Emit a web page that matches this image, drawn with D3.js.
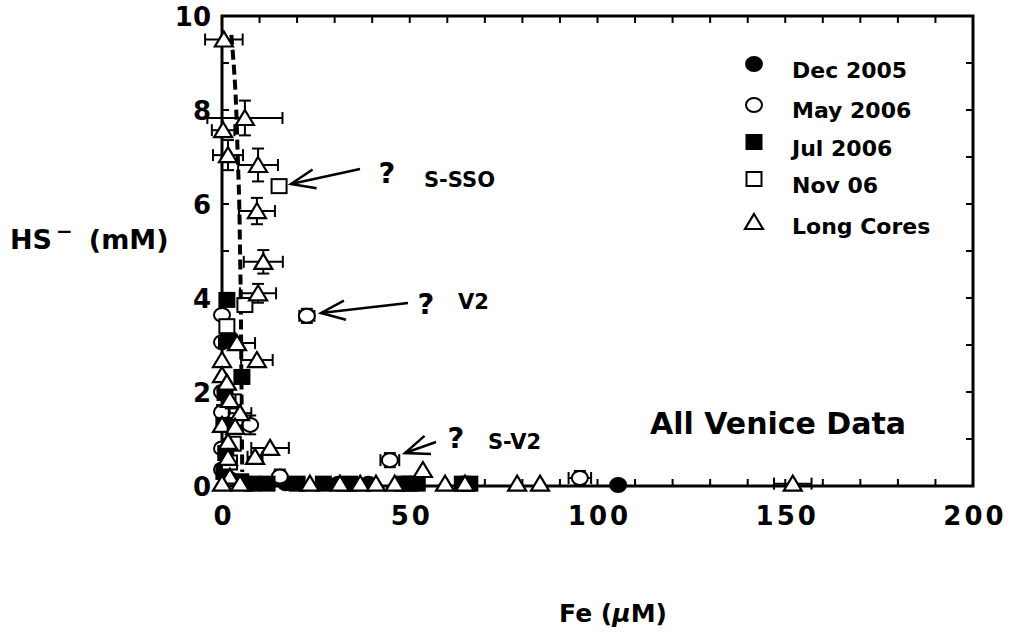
<!DOCTYPE html>
<html><head><meta charset="utf-8">
<script src="https://cdn.jsdelivr.net/npm/d3@7"></script>
<style>
html,body{margin:0;padding:0;background:#fff;}
text{font-family:"DejaVu Sans",sans-serif;font-weight:bold;fill:#000;}
</style></head>
<body><svg id="c" width="1016" height="632"></svg>
<script>
// ---- data: [Fe (uM), HS- (mM), Fe error, HS error] ----
const dec2005 = [[105.5,0.02,0,0],[39,0.05,0,0],[31,0.05,0,0],[17,0.06,0,0],[8,0.05,0,0]];
const may2006 = [[0,3.64,0,0.1],[22.6,3.62,2,0.15],[0,3.06,0,0],[0,2.0,0,0],[0,1.57,0,0.15],[7.5,1.3,1,0.2],[0,0.8,0,0],[0,0.35,0,0],[44.7,0.55,2.5,0.15],[15.4,0.2,1.5,0.15],[95.3,0.17,3,0.15],[2,0.15,0,0]];
const jul2006 = [[1.3,3.96,0,0],[1.6,3.1,0,0],[5.3,2.32,0,0],[0.8,1.98,0,0],[0.5,1.3,0,0],[1,0.7,0,0],[0.5,0.3,0,0],[5,0.1,0,0],[8,0.05,0,0],[12,0.05,0,0],[20,0.05,0,0],[27,0.05,0,0],[34,0.05,0,0],[48,0.05,0,0],[50,0.05,0,0],[52,0.05,0,0],[64,0.05,0,0],[66,0.05,0,0]];
const nov06 = [[15.2,6.38,0,0],[6.1,3.85,1.5,0],[1.3,3.4,0,0],[3,1.8,0,0],[3,0.9,0,0],[2,0.5,0,0]];
const longCores = [[0.5,9.5,5,0],[6.1,7.83,10,0.37],[0.3,7.57,3,0],[1.6,7.04,4,0.32],[9.6,6.83,5.3,0.35],[9.3,5.85,4.8,0.28],[11,4.77,5.2,0.25],[9.6,4.1,4.8,0.2],[4,3.04,4.8,0],[0,2.68,0,0],[9.3,2.68,4.2,0],[0,2.36,0,0],[1.3,2.2,0,0],[2.1,1.83,1.5,0],[4.8,1.55,3,0],[0,1.3,0,0],[3.5,1.26,2,0],[1.6,0.94,0,0],[12.8,0.81,5,0],[8.8,0.62,2,0],[1.6,0.6,0,0],[2.1,0.2,0,0],[0,0.05,0,0],[4.8,0.05,0,0],[23.4,0.05,0,0],[31.4,0.05,0,0],[36.8,0.05,0,0],[41,0.05,0,0],[46,0.05,0,0],[53.5,0.34,0,0],[59.4,0.05,0,0],[64.7,0.05,0,0],[78.6,0.05,0,0],[84.7,0.05,0,0],[152,0.05,5,0]];
const trendFe = [2.5,3.5,4.2,4.6,4.8,5.0,5.1,5.2,5.3,5.4];
const trendHS = [9.6,8.5,7.0,6.0,5.0,4.0,3.0,2.0,1.0,0.3];
const xTicks = [0,50,100,150,200];
const yTicks = [0,2,4,6,8,10];
const legendLabels = ["Dec 2005","May 2006","Jul 2006","Nov 06","Long Cores"];
const notes = [{q:"?",label:"S-SSO",fe:15.2,hs:6.38},{q:"?",label:"V2",fe:22.6,hs:3.62},{q:"?",label:"S-V2",fe:44.7,hs:0.55}];

const svg = d3.select("#c");
const L=222,R=973,T=16,B=486;
const x = d3.scaleLinear().domain([0,200]).range([L,R]);
const y = d3.scaleLinear().domain([0,10]).range([B,T]);

// frame
svg.append("rect").attr("x",L).attr("y",T).attr("width",R-L).attr("height",B-T)
  .attr("fill","none").attr("stroke","#000").attr("stroke-width",3);

// ticks (inside) on all sides
const tk = 7;
const xt = d3.range(0,201,10), yt = d3.range(0,10.01,1);
const tg = svg.append("g").attr("stroke","#000").attr("stroke-width",2);
xt.forEach(v=>{ tg.append("line").attr("x1",x(v)).attr("x2",x(v)).attr("y1",B).attr("y2",B-tk);
                tg.append("line").attr("x1",x(v)).attr("x2",x(v)).attr("y1",T).attr("y2",T+tk);});
yt.forEach(v=>{ tg.append("line").attr("y1",y(v)).attr("y2",y(v)).attr("x1",L).attr("x2",L+tk);
                tg.append("line").attr("y1",y(v)).attr("y2",y(v)).attr("x1",R).attr("x2",R-tk);});

// tick labels
svg.append("g").selectAll("text").data(xTicks).join("text")
  .attr("x",d=>x(d)+2).attr("y",525).attr("text-anchor","middle")
  .attr("font-size",26).attr("letter-spacing",3).text(d=>d);
svg.append("g").selectAll("text").data(yTicks).join("text")
  .attr("x",211).attr("y",d=>y(d)+10).attr("text-anchor","end")
  .attr("font-size",26).text(d=>d);

// axis titles
const yl = svg.append("text").attr("x",10).attr("y",249).attr("font-size",27);
yl.append("tspan").text("HS");
yl.append("tspan").attr("dy",-11).attr("dx",4).attr("font-size",20).text("−");
yl.append("tspan").attr("dy",11).attr("dx",16).text("(mM)");
const xl = svg.append("text").attr("x",613).attr("y",622).attr("text-anchor","middle").attr("font-size",25);
xl.append("tspan").text("Fe (");
xl.append("tspan").attr("font-style","italic").text("μ");
xl.append("tspan").text("M)");

// trend line
svg.append("path").datum(d3.zip(trendFe,trendHS))
  .attr("d",d3.line().x(d=>x(d[0])).y(d=>y(d[1])).curve(d3.curveMonotoneY))
  .attr("fill","none").attr("stroke","#000").attr("stroke-width",4).attr("stroke-dasharray","10,5");

// symbols
function sym(g,type,cx,cy){
  if(type==="fc"||type==="oc") g.append("ellipse").attr("cx",cx).attr("cy",cy).attr("rx",8).attr("ry",7)
     .attr("fill",type==="fc"?"#000":"#fff").attr("stroke","#000").attr("stroke-width",2);
  else if(type==="fs"||type==="os") g.append("rect").attr("x",cx-7.5).attr("y",cy-7).attr("width",15).attr("height",14)
     .attr("fill",type==="fs"?"#000":"#fff").attr("stroke","#000").attr("stroke-width",2);
  else g.append("path").attr("d",`M${cx},${cy-8}L${cx+9},${cy+7}L${cx-9},${cy+7}Z`)
     .attr("fill","#fff").attr("stroke","#000").attr("stroke-width",2.2);
}
const series = [[dec2005,"fc"],[may2006,"oc"],[jul2006,"fs"],[nov06,"os"],[longCores,"tr"]];
const pg = svg.append("g");
series.forEach(([data,type])=>{
  data.forEach(d=>{
    const g = pg.append("g").attr("stroke","#000").attr("stroke-width",2);
    const cx=x(d[0]), cy=y(d[1]);
    if(d[2]>0){ g.append("line").attr("x1",x(d[0]-d[2])).attr("x2",x(d[0]+d[2])).attr("y1",cy).attr("y2",cy);
      [d[0]-d[2],d[0]+d[2]].forEach(v=>g.append("line").attr("x1",x(v)).attr("x2",x(v)).attr("y1",cy-6).attr("y2",cy+6)); }
    if(d[3]>0){ g.append("line").attr("y1",y(d[1]-d[3])).attr("y2",y(d[1]+d[3])).attr("x1",cx).attr("x2",cx);
      [d[1]-d[3],d[1]+d[3]].forEach(v=>g.append("line").attr("y1",y(v)).attr("y2",y(v)).attr("x1",cx-6).attr("x2",cx+6)); }
    sym(g,type,cx,cy);
  });
});

// legend
const lt = ["fc","oc","fs","os","tr"];
const ly = [64,105,142,179,222], lty = [78,118,156,193,234];
const lg = svg.append("g");
lt.forEach((t,i)=>{ sym(lg,t,754,ly[i]);
  lg.append("text").attr("x",792).attr("y",lty[i]).attr("font-size",22).text(legendLabels[i]); });

// annotations with open arrowheads
const arrows = [[360,169,291,184],[408,303,321,313],[436,442,405,453]];
function arrow(a){
  const [x1,y1,x2,y2]=a, ang=Math.atan2(y1-y2,x1-x2), len=26, sp=0.38;
  const g=svg.append("g").attr("stroke","#000").attr("stroke-width",2.5).attr("fill","none");
  g.append("line").attr("x1",x1).attr("y1",y1).attr("x2",x2).attr("y2",y2);
  g.append("path").attr("d",`M${x2+len*Math.cos(ang+sp)},${y2+len*Math.sin(ang+sp)}L${x2},${y2}L${x2+len*Math.cos(ang-sp)},${y2+len*Math.sin(ang-sp)}`);
}
arrows.forEach(arrow);
const qpos=[[387,183],[426,314],[456,448]], lpos=[[424,187],[458,309],[488,449]];
notes.forEach((n,i)=>{
  svg.append("text").attr("x",qpos[i][0]).attr("y",qpos[i][1]).attr("text-anchor","middle").attr("font-size",29).text(n.q);
  svg.append("text").attr("x",lpos[i][0]).attr("y",lpos[i][1]).attr("font-size",21).text(n.label);
});
svg.append("text").attr("x",650).attr("y",434).attr("font-size",30).text("All Venice Data");
</script></body></html>
